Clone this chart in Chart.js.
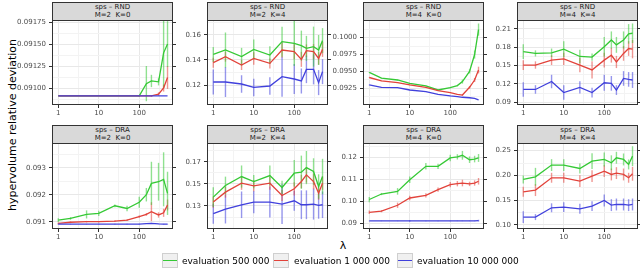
<!DOCTYPE html>
<html><head><meta charset="utf-8">
<script src="https://cdn.jsdelivr.net/npm/chart.js@4.4.1/dist/chart.umd.min.js"></script>
<style>
body{margin:0;width:640px;height:270px;overflow:hidden;background:#fff;font-family:"DejaVu Sans",sans-serif;position:relative}
.pc{position:absolute}
.strip{position:absolute;box-sizing:border-box;background:#d9d9d9;border:1px solid #333;color:#1a1a1a;font-size:7px;line-height:7.5px;text-align:center;padding-top:1px;white-space:pre}
.ytitle{position:absolute;left:12px;top:125px;transform:translate(-50%,-50%) rotate(-90deg);font-size:11px;white-space:nowrap;color:#000}
.xtitle{position:absolute;left:343px;top:245px;transform:translate(-50%,-50%);font-size:11px;color:#000}
.key{position:absolute;top:253px;width:16px;height:15px;box-sizing:border-box;background:#f0f0f0;border:1px solid #cfcfcf}
.key i{position:absolute;left:0;right:0;top:6px;height:1.2px}
.ltxt{position:absolute;top:261px;transform:translateY(-50%);font-size:9px;color:#000;white-space:nowrap}
</style></head><body>
<div class="ytitle">hypervolume relative deviation</div>
<div class="xtitle">λ</div>
<script>
// ---------- data ----------
const lambdas = [1, 2, 5, 10, 25, 50, 100, 150, 200, 300, 400, 500];
const seriesNames = ['evaluation 500 000', 'evaluation 1 000 000', 'evaluation 10 000 000'];
const stripTitles = ['sps – RND','sps – RND','sps – RND','sps – RND','sps – DRA','sps – DRA','sps – DRA','sps – DRA'];
const stripParams = ['M=2  K=0','M=2  K=4','M=4  K=0','M=4  K=4','M=2  K=0','M=2  K=4','M=4  K=0','M=4  K=4'];
const xTickLabels = ['1', '10', '100'];

// panel 1: RND M=2 K=0
const p1Green = [0.09091,0.09091,0.09091,0.09091,0.09091,0.09091,0.09091,0.09105,0.09108,0.09107,0.09140,0.09150];
const p1GreenErr = [0,0,0,0,0,0,0.00001,0.0002,0.00007,0.00004,0.0004,0.00026];
const p1Red = [0.09091,0.09091,0.09091,0.09091,0.09091,0.09091,0.09091,0.09091,0.09091,0.09093,0.09100,0.09112];
const p1RedErr = [0,0,0,0,0,0,0,0,0.00001,0.00002,0.00004,0.00013];
const p1Blue = [0.09091,0.09091,0.09091,0.09091,0.09091,0.09091,0.09091,0.09091,0.09091,0.09091,0.09091,0.09091];
const p1BlueErr = [0,0,0,0,0,0,0,0,0,0,0,0];
const p1Ticks = [0.091,0.09125,0.0915,0.09175];
const p1TickLabels = ['0.09100','0.09125','0.09150','0.09175'];
const p1Range = [0.090807, 0.091773];

// panel 2: RND M=2 K=4
const p2Green = [0.1445,0.148,0.1427,0.1485,0.144,0.1547,0.1533,0.1515,0.1493,0.1507,0.148,0.1555];
const p2GreenErr = [0.006,0.014,0.007,0.008,0.007,0.012,0.018,0.012,0.01,0.016,0.012,0.01];
const p2Red = [0.1379,0.1427,0.136,0.1413,0.1373,0.148,0.1467,0.1405,0.1475,0.1467,0.1413,0.1485];
const p2RedErr = [0.004,0.004,0.004,0.005,0.004,0.006,0.006,0.006,0.005,0.006,0.005,0.006];
const p2Blue = [0.1224,0.1224,0.1208,0.1181,0.1192,0.1267,0.1248,0.1232,0.1325,0.1325,0.1219,0.1307];
const p2BlueErr = [0.01,0.012,0.007,0.007,0.007,0.016,0.012,0.01,0.011,0.012,0.01,0.01];
const p2Ticks = [0.12,0.14,0.16];
const p2TickLabels = ['0.12','0.14','0.16'];
const p2Range = [0.104, 0.172];

// panel 3: RND M=4 K=0
const p3Green = [0.09487,0.0940,0.09373,0.09324,0.09285,0.09225,0.0926,0.0929,0.0935,0.0950,0.0975,0.1012];
const p3GreenErr = [0.00005,0.00005,0.00005,0.00005,0.00005,0.00005,0.0001,0.0001,0.0003,0.0003,0.0006,0.0009];
const p3Red = [0.0941,0.0936,0.09334,0.0930,0.09265,0.09215,0.09186,0.0916,0.0915,0.09265,0.09373,0.0952];
const p3RedErr = [0.00004,0.00004,0.00004,0.00004,0.00004,0.00004,0.00005,0.00005,0.0001,0.0002,0.0003,0.0005];
const p3Blue = [0.0930,0.09265,0.0926,0.09225,0.0920,0.0916,0.09137,0.09127,0.09117,0.0911,0.0910,0.09078];
const p3BlueErr = [0.00003,0.00003,0.00003,0.00003,0.00003,0.00003,0.00003,0.00003,0.00003,0.00003,0.00003,0.00003];
const p3Ticks = [0.0925,0.095,0.0975,0.1];
const p3TickLabels = ['0.0925','0.0950','0.0975','0.1000'];
const p3Range = [0.090025, 0.10262];

// panel 4: RND M=4 K=4
const p4Green = [0.173,0.170,0.171,0.177,0.165,0.164,0.181,0.192,0.184,0.192,0.202,0.203];
const p4GreenErr = [0.012,0.005,0.007,0.013,0.011,0.006,0.016,0.014,0.013,0.014,0.016,0.016];
const p4Red = [0.151,0.151,0.159,0.161,0.151,0.143,0.159,0.167,0.156,0.170,0.178,0.177];
const p4RedErr = [0.008,0.006,0.008,0.01,0.012,0.014,0.012,0.012,0.01,0.012,0.012,0.015];
const p4Blue = [0.111,0.111,0.124,0.106,0.1145,0.106,0.122,0.121,0.110,0.129,0.1275,0.1265];
const p4BlueErr = [0.012,0.007,0.011,0.012,0.01,0.008,0.013,0.012,0.008,0.012,0.012,0.013];
const p4Ticks = [0.09,0.12,0.15,0.18,0.21];
const p4TickLabels = ['0.09','0.12','0.15','0.18','0.21'];
const p4Range = [0.08558, 0.2247];

// panel 5: DRA M=2 K=0
const p5Green = [0.09106,0.09112,0.09127,0.09131,0.09159,0.09149,0.09172,0.0920,0.09242,0.09248,0.09257,0.09205];
const p5GreenErr = [0.00007,0.00005,0.00015,0.0001,0.00005,0.0001,0.0002,0.00025,0.0008,0.0007,0.001,0.0008];
const p5Red = [0.09094,0.09098,0.0910,0.0910,0.09102,0.09106,0.09119,0.09127,0.09137,0.09125,0.09133,0.09162];
const p5RedErr = [0.00003,0.00003,0.00003,0.00003,0.00003,0.00003,0.00004,0.00005,0.00035,0.0001,0.00015,0.0002];
const p5Blue = [0.09091,0.09091,0.09091,0.09091,0.09091,0.09091,0.09091,0.09093,0.09094,0.09092,0.09091,0.09091];
const p5BlueErr = [0.00001,0.00001,0.00001,0.00001,0.00001,0.00001,0.00001,0.00001,0.00002,0.00001,0.00001,0.00001];
const p5Ticks = [0.091,0.092,0.093];
const p5TickLabels = ['0.091','0.092','0.093'];
const p5Range = [0.09073, 0.093915];

// panel 6: DRA M=2 K=4
const p6Green = [0.138,0.1485,0.1566,0.152,0.1575,0.1467,0.1596,0.1605,0.1647,0.1611,0.1476,0.1566];
const p6GreenErr = [0.009,0.008,0.01,0.006,0.009,0.006,0.012,0.015,0.015,0.012,0.011,0.016];
const p6Red = [0.1335,0.1425,0.1506,0.1482,0.1506,0.1395,0.1455,0.1521,0.1581,0.1521,0.1416,0.1506];
const p6RedErr = [0.005,0.005,0.006,0.005,0.006,0.005,0.006,0.006,0.007,0.007,0.006,0.006];
const p6Blue = [0.123,0.1272,0.1311,0.1335,0.1335,0.1317,0.1347,0.1311,0.1311,0.1317,0.1305,0.1311];
const p6BlueErr = [0.009,0.013,0.012,0.01,0.014,0.018,0.009,0.013,0.013,0.014,0.012,0.012];
const p6Ticks = [0.13,0.15,0.17];
const p6TickLabels = ['0.13','0.15','0.17'];
const p6Range = [0.1092, 0.1869];

// panel 7: DRA M=4 K=0
const p7Green = [0.1008,0.1033,0.1045,0.1098,0.1159,0.1159,0.1197,0.1202,0.1209,0.1189,0.1192,0.1197];
const p7GreenErr = [0.0012,0.0005,0.0015,0.0015,0.0015,0.0012,0.0015,0.0012,0.002,0.0015,0.0015,0.0018];
const p7Red = [0.095,0.0955,0.0982,0.1015,0.1027,0.1053,0.1076,0.108,0.1083,0.1079,0.1083,0.1091];
const p7RedErr = [0.0008,0.0005,0.0012,0.001,0.001,0.001,0.0012,0.0012,0.0015,0.001,0.0012,0.0015];
const p7Blue = [0.09106,0.09106,0.09106,0.09106,0.09106,0.09106,0.09108,0.09108,0.09108,0.09108,0.09105,0.0912];
const p7BlueErr = [0.0001,0.0001,0.0001,0.0004,0.0001,0.0001,0.0001,0.0001,0.0001,0.0001,0.0001,0.0004];
const p7Ticks = [0.09,0.10,0.11,0.12];
const p7TickLabels = ['0.09','0.10','0.11','0.12'];
const p7Range = [0.0874, 0.1265];

// panel 8: DRA M=4 K=4
const p8Green = [0.1919,0.1973,0.2209,0.2209,0.2141,0.2289,0.2323,0.2256,0.2357,0.2323,0.2222,0.239];
const p8GreenErr = [0.008,0.018,0.012,0.012,0.01,0.016,0.014,0.015,0.012,0.012,0.01,0.02];
const p8Red = [0.167,0.1704,0.1953,0.1953,0.1886,0.1987,0.2087,0.202,0.2047,0.202,0.1953,0.2034];
const p8RedErr = [0.01,0.012,0.01,0.01,0.012,0.012,0.012,0.012,0.012,0.012,0.01,0.014];
const p8Blue = [0.1159,0.1159,0.1347,0.1361,0.1327,0.1381,0.1495,0.1401,0.1414,0.1414,0.1401,0.1414];
const p8BlueErr = [0.012,0.006,0.009,0.01,0.01,0.01,0.012,0.012,0.012,0.012,0.012,0.012];
const p8Ticks = [0.10,0.15,0.20,0.25];
const p8TickLabels = ['0.10','0.15','0.20','0.25'];
const p8Range = [0.0919, 0.2655];

// ---------- styling / layout ----------
const lineColors = ['#35c935', '#e2423a', '#4040dc'];
const errColors = ['rgba(53,201,53,0.55)', 'rgba(226,66,58,0.55)', 'rgba(64,64,220,0.55)'];
const panelLefts = [52, 207, 363, 517];
const PW = 121, AXW = 52, RW = 8, STRIP = 18, XAH = 18;
const rowTop = [2, 125], rowPlotH = [85, 86];
const XMIN = Math.pow(10, -0.135), XMAX = Math.pow(10, Math.log10(500) + 0.135);
const xMajor = [1, 10, 100];
const xTickVals = [1, Math.sqrt(10), 10, Math.sqrt(1000), 100, Math.sqrt(100000)];

const panels = [
  [p1Green,p1GreenErr,p1Red,p1RedErr,p1Blue,p1BlueErr,p1Ticks,p1TickLabels,p1Range],
  [p2Green,p2GreenErr,p2Red,p2RedErr,p2Blue,p2BlueErr,p2Ticks,p2TickLabels,p2Range],
  [p3Green,p3GreenErr,p3Red,p3RedErr,p3Blue,p3BlueErr,p3Ticks,p3TickLabels,p3Range],
  [p4Green,p4GreenErr,p4Red,p4RedErr,p4Blue,p4BlueErr,p4Ticks,p4TickLabels,p4Range],
  [p5Green,p5GreenErr,p5Red,p5RedErr,p5Blue,p5BlueErr,p5Ticks,p5TickLabels,p5Range],
  [p6Green,p6GreenErr,p6Red,p6RedErr,p6Blue,p6BlueErr,p6Ticks,p6TickLabels,p6Range],
  [p7Green,p7GreenErr,p7Red,p7RedErr,p7Blue,p7BlueErr,p7Ticks,p7TickLabels,p7Range],
  [p8Green,p8GreenErr,p8Red,p8RedErr,p8Blue,p8BlueErr,p8Ticks,p8TickLabels,p8Range]
];

const errPlugin = {
  id: 'errbars',
  beforeDatasetsDraw(chart) {
    const {ctx, chartArea: a, scales} = chart;
    const x = scales.x, y = scales.y;
    ctx.save();
    ctx.beginPath(); ctx.rect(a.left, a.top, a.width, a.height); ctx.clip();
    ctx.lineWidth = 1.4;
    chart.data.datasets.forEach(ds => {
      ctx.strokeStyle = ds.errColor;
      ds.data.forEach(p => {
        if (!p.e) return;
        const px = x.getPixelForValue(p.x);
        ctx.beginPath();
        ctx.moveTo(px, y.getPixelForValue(p.y - p.e));
        ctx.lineTo(px, y.getPixelForValue(p.y + p.e));
        ctx.stroke();
      });
    });
    ctx.restore();
  }
};
const borderPlugin = {
  id: 'pborder',
  afterDraw(chart) {
    const {ctx, chartArea: a} = chart;
    ctx.save();
    ctx.strokeStyle = '#333'; ctx.lineWidth = 1;
    ctx.strokeRect(Math.round(a.left) + 0.5, Math.round(a.top) + 0.5, Math.round(a.width) - 1, Math.round(a.height) - 1);
    ctx.restore();
  }
};

function near(a, b) { return Math.abs(a - b) <= Math.abs(b) * 1e-6 + 1e-12; }

panels.forEach((p, i) => {
  const row = Math.floor(i / 4), col = i % 4;
  const [g, ge, r, re, b, be, ticks, tickLabels, range] = p;
  const plotH = rowPlotH[row];
  const left = panelLefts[col] - AXW, top = rowTop[row];
  const W = AXW + PW + RW, H = STRIP + plotH + XAH;

  const div = document.createElement('div');
  div.className = 'pc';
  div.style.left = left + 'px'; div.style.top = top + 'px';
  div.style.width = W + 'px'; div.style.height = H + 'px';
  const cv = document.createElement('canvas');
  cv.width = W; cv.height = H;
  cv.style.width = W + 'px'; cv.style.height = H + 'px';
  div.appendChild(cv);
  document.body.appendChild(div);

  const strip = document.createElement('div');
  strip.className = 'strip';
  strip.style.left = panelLefts[col] + 'px'; strip.style.top = top + 'px';
  strip.style.width = PW + 'px'; strip.style.height = (STRIP + 1) + 'px';
  strip.textContent = stripTitles[i] + '\n' + stripParams[i];
  document.body.appendChild(strip);

  const step = ticks[1] - ticks[0];
  const minors = [];
  for (let k = -1; k < ticks.length; k++) {
    const v = ticks[0] + (k + 0.5) * step;
    if (v > range[0] && v < range[1]) minors.push(v);
  }
  const yAll = ticks.concat(minors).sort((a, c) => a - c);
  const isYMajor = v => ticks.some(t => near(v, t));
  const isXMajor = v => xMajor.some(t => near(v, t));

  const mk = (vals, errs, k) => ({
    label: seriesNames[k],
    data: lambdas.map((l, j) => ({x: l, y: vals[j], e: errs[j]})),
    borderColor: lineColors[k], errColor: errColors[k],
    borderWidth: 1.3, pointRadius: 0, tension: 0, fill: false,
    xAxisID: 'x', yAxisID: 'y'
  });

  const yTickFont = {size: 7, family: 'DejaVu Sans'};
  new Chart(cv, {
    type: 'line',
    data: {datasets: [mk(b, be, 2), mk(r, re, 1), mk(g, ge, 0)]},
    options: {
      responsive: false, animation: false, devicePixelRatio: 1,
      layout: {padding: {top: STRIP, left: 0, right: 0, bottom: 0}},
      plugins: {legend: {display: false}, tooltip: {enabled: false}},
      scales: {
        x: {
          type: 'logarithmic', min: XMIN, max: XMAX,
          afterBuildTicks: s => { s.ticks = xTickVals.map(v => ({value: v})); },
          afterFit: s => { s.height = XAH; s.paddingLeft = 0; s.paddingRight = 0; },
          ticks: {autoSkip: false, maxRotation: 0, minRotation: 0, padding: 1, font: yTickFont, color: '#4d4d4d',
            callback: v => { const idx = xMajor.findIndex(t => near(v, t)); return idx >= 0 ? xTickLabels[idx] : ''; }},
          grid: {
            color: c => (c.tick && isXMajor(c.tick.value)) ? '#e8e8e8' : '#f3f3f3',
            lineWidth: 1, drawTicks: true, tickLength: 3,
            tickColor: c => (c.tick && isXMajor(c.tick.value)) ? '#333' : 'rgba(0,0,0,0)'
          },
          border: {display: false}
        },
        y: {
          type: 'linear', position: 'left', min: range[0], max: range[1],
          afterBuildTicks: s => { s.ticks = yAll.map(v => ({value: v})); },
          afterFit: s => { s.width = AXW; s.paddingTop = 0; s.paddingBottom = 0; },
          ticks: {autoSkip: false, padding: 3, font: yTickFont, color: '#4d4d4d',
            callback: v => { const idx = ticks.findIndex(t => near(v, t)); return idx >= 0 ? tickLabels[idx] : ''; }},
          grid: {
            color: c => (c.tick && isYMajor(c.tick.value)) ? '#e8e8e8' : '#f3f3f3',
            lineWidth: 1, drawTicks: true, tickLength: 3,
            tickColor: c => (c.tick && isYMajor(c.tick.value)) ? '#333' : 'rgba(0,0,0,0)'
          },
          border: {display: false}
        },
        y2: {
          type: 'linear', position: 'right', min: range[0], max: range[1],
          afterBuildTicks: s => { s.ticks = ticks.map(v => ({value: v})); },
          afterFit: s => { s.width = RW; s.paddingTop = 0; s.paddingBottom = 0; },
          ticks: {display: false},
          grid: {drawOnChartArea: false, drawTicks: true, tickLength: 3, tickColor: '#333', lineWidth: 1},
          border: {display: false}
        }
      }
    },
    plugins: [errPlugin, borderPlugin]
  });
});

// legend
const keyLefts = [162, 273, 397], txtLefts = [182, 294, 417];
seriesNames.forEach((n, k) => {
  const key = document.createElement('div');
  key.className = 'key'; key.style.left = keyLefts[k] + 'px';
  const ln = document.createElement('i'); ln.style.background = lineColors[k];
  key.appendChild(ln);
  document.body.appendChild(key);
  const t = document.createElement('div');
  t.className = 'ltxt'; t.style.left = txtLefts[k] + 'px'; t.textContent = n;
  document.body.appendChild(t);
});
</script>
</body></html>
